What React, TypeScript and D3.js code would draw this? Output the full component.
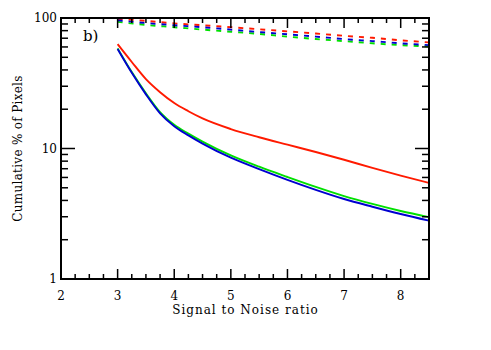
import React, { useRef, useEffect } from 'react'
import * as d3 from 'd3'

// signal-to-noise grid
const snr = [3, 3.25, 3.5, 3.75, 4, 4.25, 4.5, 5, 5.5, 6, 6.5, 7, 7.5, 8, 8.5]
const redSolid = [63, 46, 34, 27, 22.3, 19.3, 17.0, 14.1, 12.2, 10.7, 9.4, 8.2, 7.1, 6.2, 5.45]
const blueSolid = [57.8, 38, 26, 18.6, 14.8, 12.6, 10.9, 8.5, 6.95, 5.75, 4.82, 4.1, 3.58, 3.15, 2.8]
const greenSolid = [58.5, 38.5, 26.5, 19, 15.2, 13.0, 11.3, 8.85, 7.25, 6.05, 5.08, 4.32, 3.76, 3.32, 2.98]

const snrDash = [3, 3.5, 4, 4.5, 5, 5.5, 6, 6.5, 7, 7.5, 8, 8.5]
const redDash = [98.5, 95, 91, 88, 85, 82, 79, 76, 73, 70.5, 67.5, 65]
const blueDash = [96, 91.5, 88, 85, 81.5, 78, 75, 72, 69, 66.5, 64, 62]
const greenDash = [93.5, 88.5, 85, 81.5, 78.5, 75.5, 72, 69, 66.5, 64, 62, 60.5]

const xTicks = [2, 3, 4, 5, 6, 7, 8]
const yTicks = [1, 10, 100]

export default function App() {
    const svgRef = useRef<SVGSVGElement>(null)

    useEffect(() => {
        if (!svgRef.current) return
        const svg = d3.select(svgRef.current)
        svg.selectAll('*').remove()
        const width = 491
        const height = 350
        const margin = { top: 18, right: 62, bottom: 71, left: 61 }
        const w = width - margin.left - margin.right
        const h = height - margin.top - margin.bottom
        const font = 'DejaVu Serif'

        const g = svg.append('g').attr('transform', `translate(${margin.left},${margin.top})`)

        const x = d3.scaleLinear().domain([2, 8.5]).range([0, w])
        const y = d3.scaleLog().domain([1, 100]).range([h, 0])

        // clip
        svg.append('defs').append('clipPath').attr('id', 'plot-clip')
            .append('rect').attr('width', w).attr('height', h)

        const line = d3.line<[number, number]>()
            .x(d => x(d[0]))
            .y(d => y(d[1]))
            .curve(d3.curveMonotoneX)

        const series = [
            { xs: snrDash, ys: redDash, color: '#ff1a00', dash: '5,6' },
            { xs: snrDash, ys: greenDash, color: '#00e000', dash: '5,6' },
            { xs: snrDash, ys: blueDash, color: '#0000d0', dash: '5,6' },
            { xs: snr, ys: greenSolid, color: '#00e000', dash: null },
            { xs: snr, ys: blueSolid, color: '#0000d0', dash: null },
            { xs: snr, ys: redSolid, color: '#ff1a00', dash: null },
        ]

        const plot = g.append('g').attr('clip-path', 'url(#plot-clip)')
        series.forEach(s => {
            const pts = s.xs.map((v, i) => [v, s.ys[i]] as [number, number])
            plot.append('path')
                .datum(pts)
                .attr('d', line)
                .attr('fill', 'none')
                .attr('stroke', s.color)
                .attr('stroke-width', 1.9)
                .attr('stroke-dasharray', s.dash)
        })

        // frame
        g.append('rect')
            .attr('width', w).attr('height', h)
            .attr('fill', 'none')
            .attr('stroke', '#000')
            .attr('stroke-width', 2)

        const tickStroke = (sel: any) => sel.attr('stroke', '#000').attr('stroke-width', 1.5)

        // x ticks (bottom and top, pointing inward)
        const xMinor = d3.range(2, 8.5001, 0.25)
        xMinor.forEach(v => {
            const major = Math.abs(v - Math.round(v)) < 1e-6
            const len = major ? 10 : 5
            tickStroke(g.append('line').attr('x1', x(v)).attr('x2', x(v)).attr('y1', h).attr('y2', h - len))
            tickStroke(g.append('line').attr('x1', x(v)).attr('x2', x(v)).attr('y1', 0).attr('y2', len))
        })
        xTicks.forEach(v => {
            g.append('text')
                .attr('x', x(v)).attr('y', h + 21)
                .attr('text-anchor', 'middle')
                .style('font-family', font)
                .style('font-size', '12px')
                .text(v)
        })

        // y ticks (log, left and right)
        const yMinor: number[] = []
        ;[1, 10].forEach(d => { for (let k = 1; k <= 10; k++) yMinor.push(d * k) })
        Array.from(new Set(yMinor)).forEach(v => {
            const major = yTicks.includes(v)
            const len = major ? 14 : 7
            tickStroke(g.append('line').attr('x1', 0).attr('x2', len).attr('y1', y(v)).attr('y2', y(v)))
            tickStroke(g.append('line').attr('x1', w).attr('x2', w - len).attr('y1', y(v)).attr('y2', y(v)))
        })
        yTicks.forEach(v => {
            g.append('text')
                .attr('x', -4).attr('y', y(v))
                .attr('dy', '0.35em')
                .attr('text-anchor', 'end')
                .style('font-family', font)
                .style('font-size', '12px')
                .text(v)
        })

        // label inside plot
        g.append('text')
            .attr('x', 22).attr('y', 23)
            .style('font-family', font)
            .style('font-size', '15px')
            .text('b)')

        // axis titles
        svg.append('text')
            .attr('x', margin.left + w / 2 + 0.5).attr('y', 314)
            .attr('text-anchor', 'middle')
            .style('font-family', font)
            .style('font-size', '12px')
            .style('letter-spacing', '1px')
            .text('Signal to Noise ratio')

        svg.append('text')
            .attr('transform', `translate(22,${margin.top + h / 2}) rotate(-90)`)
            .attr('text-anchor', 'middle')
            .style('font-family', font)
            .style('font-size', '12px')
            .style('letter-spacing', '0.3px')
            .text('Cumulative % of Pixels')
    }, [])

    return (
        <svg
            ref={svgRef}
            width={491}
            height={350}
            style={{ position: 'fixed', left: 0, top: 0, background: '#fff' }}
        />
    )
}
